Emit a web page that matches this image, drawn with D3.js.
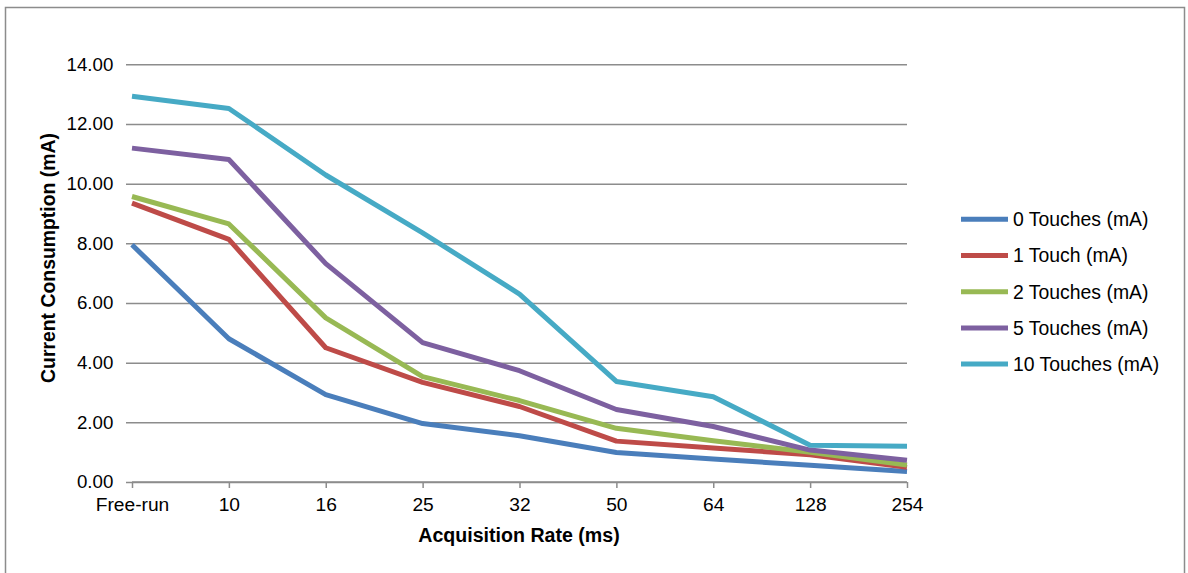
<!DOCTYPE html>
<html><head><meta charset="utf-8">
<script src="https://cdn.jsdelivr.net/npm/d3@7"></script>
<style>body{margin:0;background:#fff}svg{display:block}text{font-family:"Liberation Sans",Arial,sans-serif;fill:#000}</style>
</head><body><svg id="c" width="1188" height="573"></svg>
<script>
const categories = ["Free-run","10","16","25","32","50","64","128","254"];
const seriesNames = ["0 Touches (mA)","1 Touch (mA)","2 Touches (mA)","5 Touches (mA)","10 Touches (mA)"];
const touches0 = [7.95,4.80,2.93,1.96,1.55,0.99,0.77,0.56,0.35];
const touches1 = [9.35,8.13,4.50,3.34,2.53,1.37,1.14,0.91,0.49];
const touches2 = [9.57,8.65,5.50,3.53,2.73,1.80,1.38,1.00,0.57];
const touches5 = [11.19,10.81,7.32,4.67,3.73,2.43,1.86,1.07,0.73];
const touches10 = [12.93,12.52,10.29,8.35,6.30,3.37,2.86,1.23,1.20];
const yTicks = [0,2,4,6,8,10,12,14];
const colors = ["#4a7ebb","#be4b48","#98b954","#7d60a0","#46aac5"];
const seriesValues = [touches0,touches1,touches2,touches5,touches10];

const svg = d3.select("#c");
svg.append("rect").attr("x",5.5).attr("y",7.5).attr("width",1179).attr("height",570)
  .attr("fill","#fff").attr("stroke","#8c8c8c").attr("stroke-width",1.5);

const x = d3.scalePoint().domain(categories).range([132,907]);
const y = d3.scaleLinear().domain([0,14]).range([482,64.3]);

// gridlines + y labels
const yAxis = d3.axisLeft(y).tickValues(yTicks).tickFormat(d3.format(".2f")).tickSize(-(907-132)).tickPadding(18.7);
const gy = svg.append("g").attr("transform","translate(132,0)").call(yAxis);
gy.select(".domain").remove();
gy.selectAll(".tick line").attr("stroke","#8c8c8c").attr("stroke-width",1.5).attr("x1",-6);
gy.selectAll(".tick text").attr("font-size","18.7px").attr("font-family","Liberation Sans, Arial, sans-serif").attr("fill","#000");

// x axis
const xAxis = d3.axisBottom(x).tickSize(6).tickPadding(9);
const gx = svg.append("g").attr("transform","translate(0,482)").call(xAxis);
gx.select(".domain").attr("stroke","#8c8c8c").attr("stroke-width",1.5).attr("d","M132,0H907");
gx.selectAll(".tick line").attr("stroke","#8c8c8c").attr("stroke-width",1.5);
gx.selectAll(".tick text").attr("font-size","19.2px").attr("font-family","Liberation Sans, Arial, sans-serif").attr("fill","#000");

// lines
const line = d3.line().x((d,i)=>x(categories[i])).y(d=>y(d));
seriesValues.forEach((vals,k)=>{
  svg.append("path").datum(vals).attr("d",line).attr("fill","none")
    .attr("stroke",colors[k]).attr("stroke-width",5).attr("stroke-linejoin","round").attr("stroke-linecap","butt");
});

// axis titles
svg.append("text").attr("x",519).attr("y",542).attr("text-anchor","middle")
  .attr("font-size","19.6px").attr("font-weight","bold").text("Acquisition Rate (ms)");
svg.append("text").attr("transform","translate(55,258) rotate(-90)").attr("text-anchor","middle")
  .attr("font-size","19.4px").attr("font-weight","bold").text("Current Consumption (mA)");

// legend
const lg = svg.append("g");
seriesNames.forEach((n,k)=>{
  const yy = 219.3 + k*36.2;
  lg.append("line").attr("x1",961).attr("x2",1008).attr("y1",yy).attr("y2",yy)
    .attr("stroke",colors[k]).attr("stroke-width",5);
  lg.append("text").attr("x",1013).attr("y",yy+6.8).attr("font-size","19.4px").text(n);
});
</script></body></html>
